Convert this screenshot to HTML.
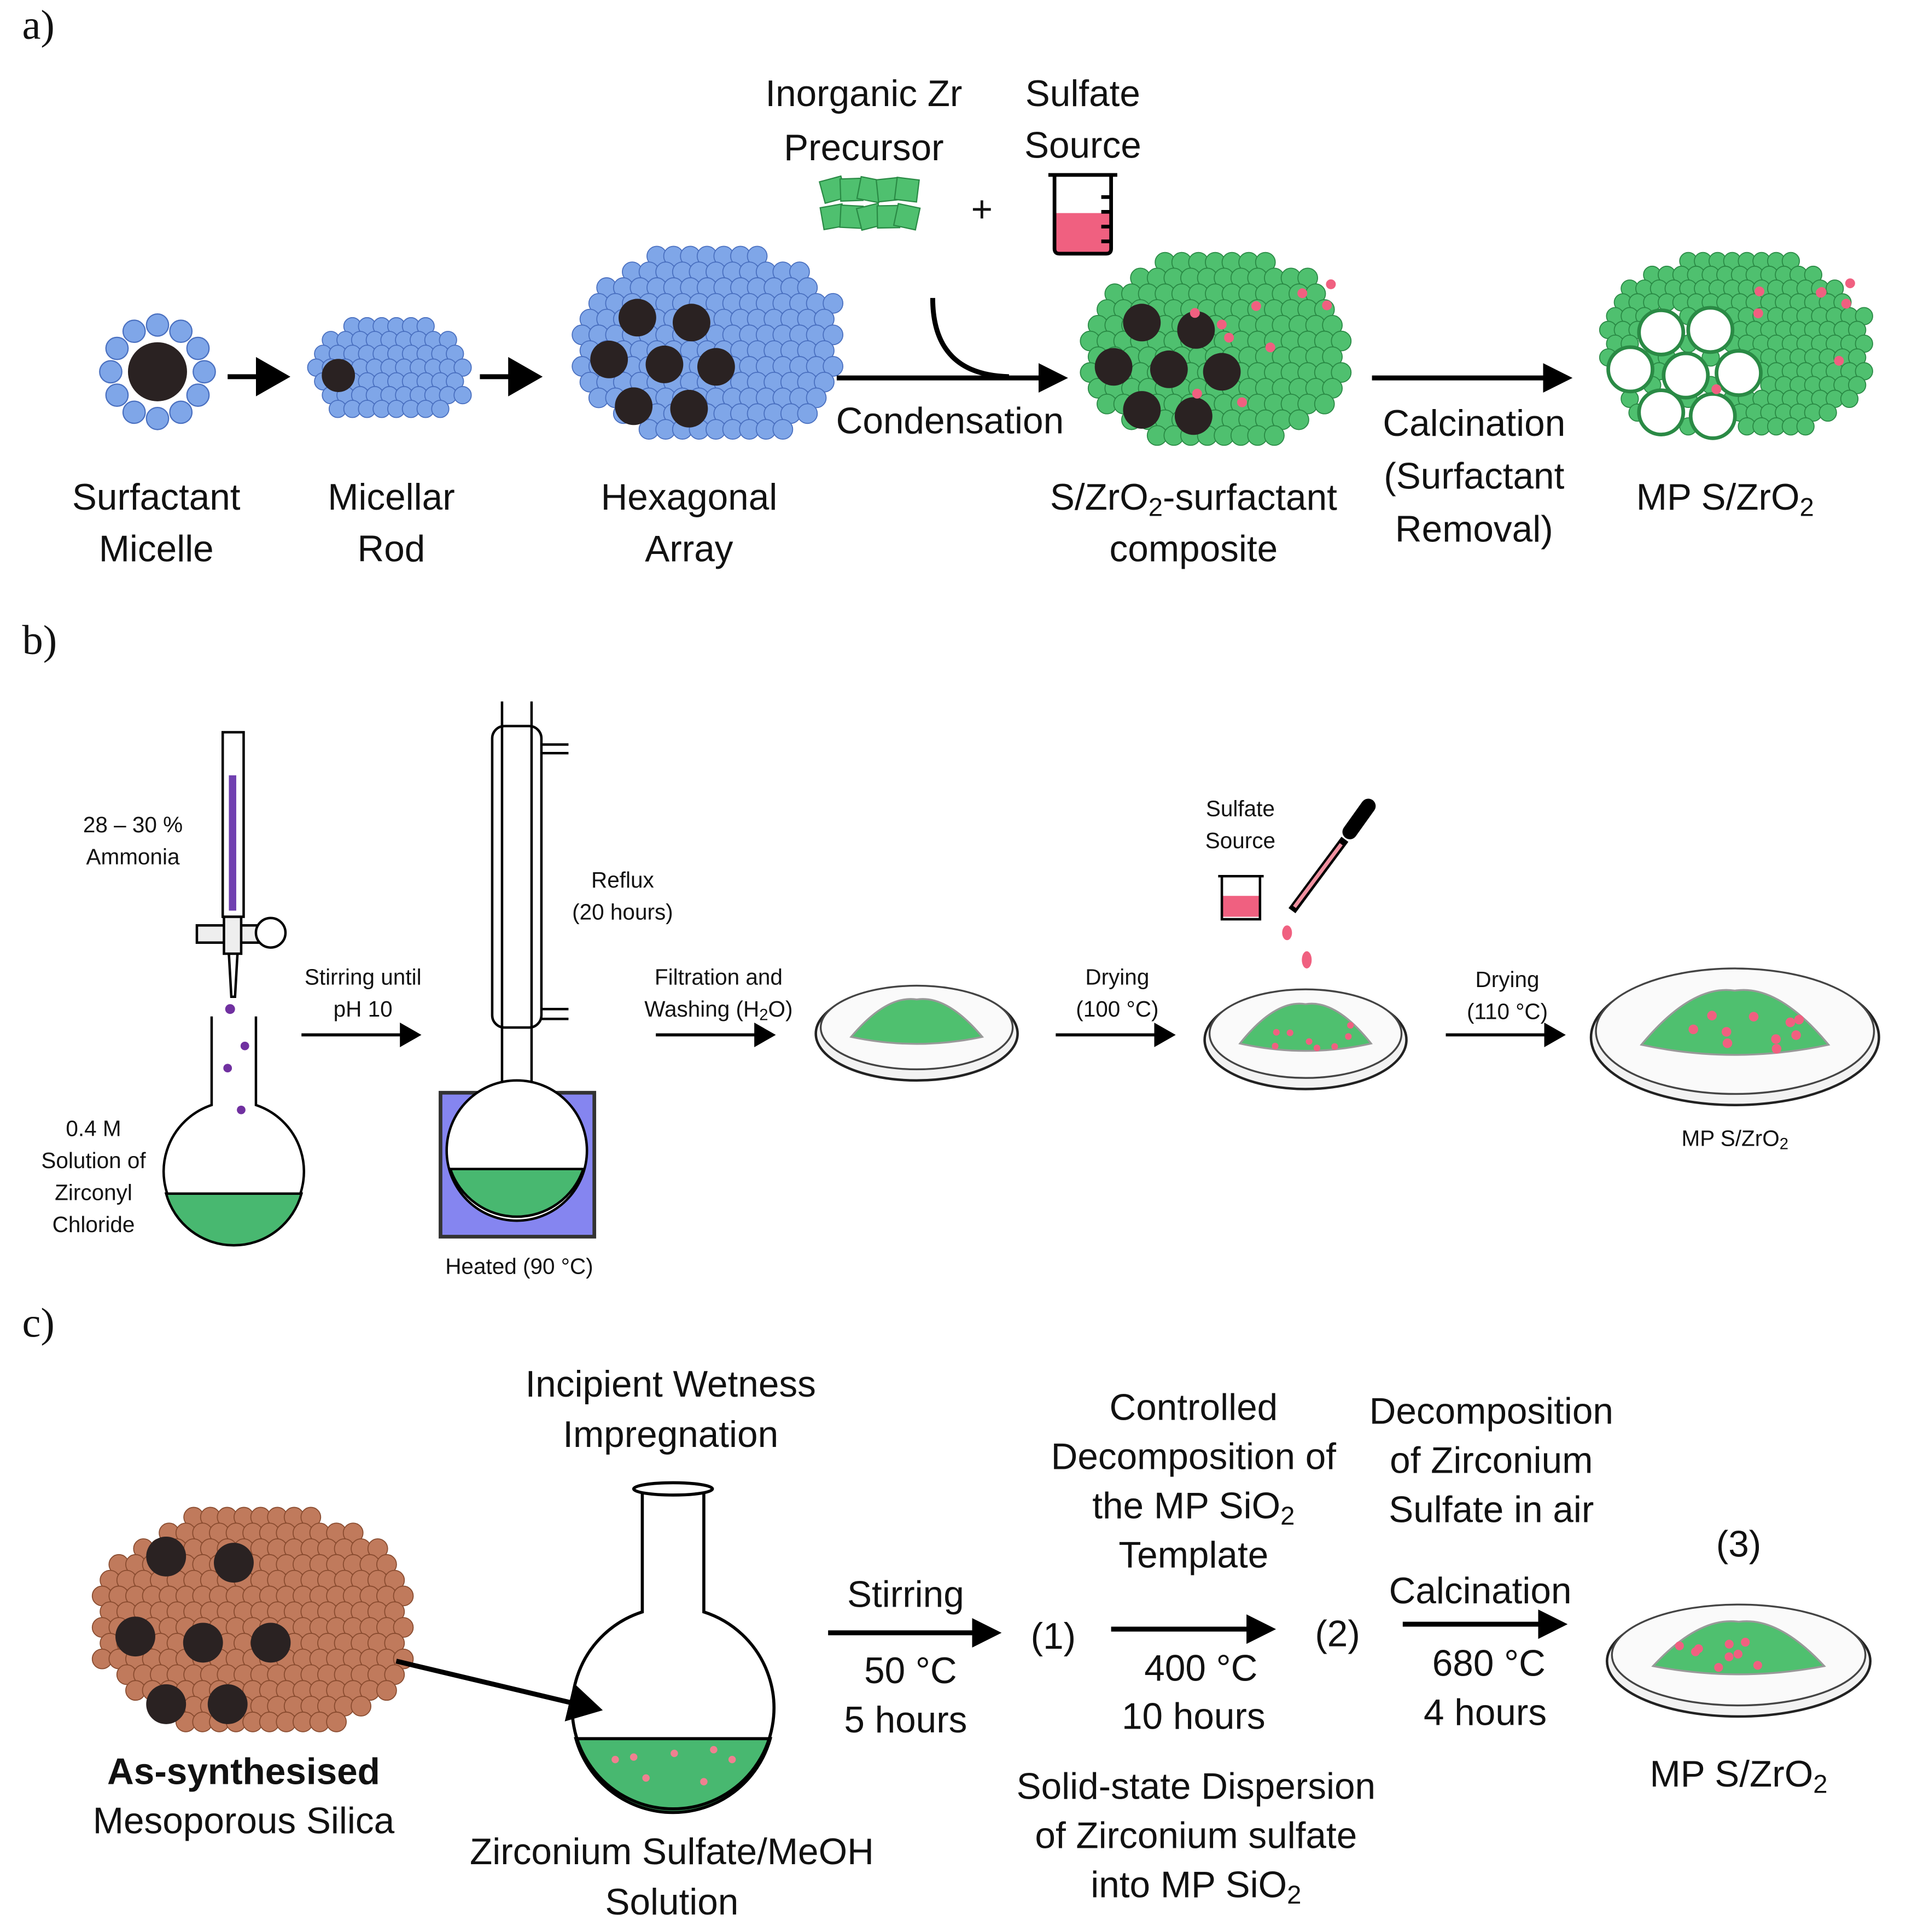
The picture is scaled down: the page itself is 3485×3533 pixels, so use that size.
<!DOCTYPE html>
<html><head><meta charset="utf-8">
<style>
html,body{margin:0;padding:0;background:#fff;}
svg{display:block;}
text{font-family:"Liberation Sans",sans-serif;fill:#111;dominant-baseline:central;text-anchor:middle;}
.l{font-size:30px;}
.s{font-size:18px;}
.p{font-size:34px;text-anchor:start;font-family:"Liberation Serif",serif;}
</style></head>
<body>
<svg id="sv" width="3485" height="3533" viewBox="0 0 1549 1570" xmlns="http://www.w3.org/2000/svg">
<defs>
<marker id="ah" markerWidth="8" markerHeight="8" refX="6" refY="4" orient="auto" markerUnits="strokeWidth"><path d="M0,0 L7,4 L0,8 z" fill="#000"/></marker>
<marker id="ah3" markerWidth="6" markerHeight="6" refX="5" refY="3" orient="auto" markerUnits="strokeWidth"><path d="M0,0 L6,3 L0,6 z" fill="#000"/></marker>
</defs>
<g id="dyn"></g>
<text class="p" x="18" y="20">a)</text>
<text class="p" x="18" y="520">b)</text>
<text class="p" x="18" y="1075">c)</text>

<g stroke="#000" stroke-width="4" fill="none">
<line x1="185" y1="306" x2="232" y2="306" marker-end="url(#ah)"/>
<line x1="390" y1="306" x2="437" y2="306" marker-end="url(#ah)"/>
<line x1="680" y1="307" x2="864" y2="307" marker-end="url(#ah3)"/>
<path d="M758,242 C758,285 780,305 820,306"/>
<line x1="1115" y1="307" x2="1274" y2="307" marker-end="url(#ah3)"/>
</g>
<text class="l" x="702" y="76">Inorganic Zr</text>
<text class="l" x="702" y="120">Precursor</text>
<text class="l" x="880" y="76">Sulfate</text>
<text class="l" x="880" y="118">Source</text>
<text class="l" x="798" y="170">+</text>
<path d="M857,173 L903,173 L903,202 Q903,206 899,206 L861,206 Q857,206 857,202 z" fill="#f06080"/>
<path d="M852,142 L908,142 M857,142 L857,202 Q857,206 861,206 L899,206 Q903,206 903,202 L903,142 M903,160 L895,160 M903,172 L895,172 M903,184 L895,184 M903,196 L895,196" stroke="#000" stroke-width="3" fill="none"/>
<text class="l" x="772" y="342">Condensation</text>
<text class="l" x="1198" y="344">Calcination</text>
<text class="l" x="1198" y="387">(Surfactant</text>
<text class="l" x="1198" y="430">Removal)</text>
<text class="l" x="127" y="404">Surfactant</text>
<text class="l" x="127" y="446">Micelle</text>
<text class="l" x="318" y="404">Micellar</text>
<text class="l" x="318" y="446">Rod</text>
<text class="l" x="560" y="404">Hexagonal</text>
<text class="l" x="560" y="446">Array</text>
<text class="l" x="970" y="404">S/ZrO<tspan font-size="21" dy="8">2</tspan><tspan dy="-8">-surfactant</tspan></text>
<text class="l" x="970" y="446">composite</text>
<text class="l" x="1402" y="404">MP S/ZrO<tspan font-size="21" dy="8">2</tspan></text>

<g stroke="#000" stroke-width="2" fill="none">
<rect x="181" y="595" width="17" height="150" fill="#fff"/>
<rect x="186" y="630" width="6" height="110" fill="#7040b0" stroke="none"/>
<rect x="160" y="752" width="60" height="14" fill="#eee"/>
<circle cx="220" cy="758" r="12" fill="#fff"/>
<rect x="182" y="745" width="14" height="30" fill="#eee"/>
<path d="M186,775 L188,810 L191,810 L193,775"/>
<path d="M172,826 L172,898 A57,57 0 1 0 208,898 L208,826"/>
<path d="M135,970 L245,970 A57,57 0 0 1 135,970 z" fill="#48b870"/>
</g>
<g fill="#7030a0"><circle cx="187" cy="820" r="4"/><circle cx="199" cy="850" r="3.5"/><circle cx="185" cy="868" r="3.5"/><circle cx="196" cy="902" r="3.5"/></g>
<text class="s" x="108" y="670">28 – 30 %</text>
<text class="s" x="108" y="696">Ammonia</text>
<text class="s" x="76" y="917">0.4 M</text>
<text class="s" x="76" y="943">Solution of</text>
<text class="s" x="76" y="969">Zirconyl</text>
<text class="s" x="76" y="995">Chloride</text>
<text class="s" x="295" y="794">Stirring until</text>
<text class="s" x="295" y="820">pH 10</text>
<g stroke="#000" stroke-width="2.5" fill="none">
<line x1="245" y1="841" x2="340" y2="841" marker-end="url(#ah)"/>
<line x1="533" y1="841" x2="628" y2="841" marker-end="url(#ah)"/>
<line x1="858" y1="841" x2="953" y2="841" marker-end="url(#ah)"/>
<line x1="1175" y1="841" x2="1270" y2="841" marker-end="url(#ah)"/>
</g>
<rect x="358" y="888" width="125" height="117" fill="#8585f0" stroke="#333" stroke-width="3"/>
<g stroke="#000" stroke-width="2" fill="none">
<rect x="400" y="590" width="40" height="245" rx="10" fill="#fff"/>
<path d="M440,605 L462,605 M440,612 L462,612 M440,820 L462,820 M440,828 L462,828"/>
<path d="M408,570 L408,890 M432,570 L432,890" />
<circle cx="420" cy="935" r="57" fill="#fff"/>
<path d="M366,950 L474,950 A57,57 0 0 1 366,950 z" fill="#48b870"/>
</g>
<text class="s" x="506" y="715">Reflux</text>
<text class="s" x="506" y="741">(20 hours)</text>
<text class="s" x="422" y="1029">Heated (90 °C)</text>
<text class="s" x="584" y="794">Filtration and</text>
<text class="s" x="584" y="820">Washing (H<tspan font-size="13" dy="5">2</tspan><tspan dy="-5">O)</tspan></text>
<text class="s" x="908" y="794">Drying</text>
<text class="s" x="908" y="820">(100 °C)</text>
<text class="s" x="1225" y="796">Drying</text>
<text class="s" x="1225" y="822">(110 °C)</text>
<text class="s" x="1008" y="657">Sulfate</text>
<text class="s" x="1008" y="683">Source</text>
<text class="s" x="1410" y="925">MP S/ZrO<tspan font-size="13" dy="5">2</tspan></text>
<path d="M993,728 L1024,728 L1024,745 L993,745 z" fill="#f06080"/>
<path d="M990,712 L1027,712 M993,712 L993,747 L1024,747 L1024,712" stroke="#000" stroke-width="2" fill="none"/>
<line x1="1112" y1="655" x2="1097" y2="676" stroke="#000" stroke-width="12" stroke-linecap="round"/>
<line x1="1093" y1="682" x2="1050" y2="740" stroke="#000" stroke-width="7"/>
<line x1="1090" y1="686" x2="1052" y2="737" stroke="#f090a0" stroke-width="3"/>
<ellipse cx="1046" cy="758" rx="4" ry="6" fill="#f06080"/>
<ellipse cx="1062" cy="780" rx="4" ry="7" fill="#f06080"/>

<g stroke="#000" stroke-width="4" fill="none">
<line x1="322" y1="1350" x2="486" y2="1389" marker-end="url(#ah)"/>
<line x1="673" y1="1327" x2="810" y2="1327" marker-end="url(#ah3)"/>
<line x1="903" y1="1324" x2="1033" y2="1324" marker-end="url(#ah3)"/>
<line x1="1140" y1="1320" x2="1270" y2="1320" marker-end="url(#ah3)"/>
</g>
<g stroke="#000" stroke-width="2.5" fill="none">
<path d="M468,1413 L626,1413 A82,82 0 0 1 468,1413 z" fill="#48b870"/>
<path d="M522,1212 L522,1310 A82,82 0 1 0 572,1310 L572,1212"/>
<ellipse cx="547" cy="1210" rx="32" ry="5" fill="#fff"/>
</g>
<g fill="#f08090"><circle cx="500" cy="1430" r="3"/><circle cx="525" cy="1445" r="3"/><circle cx="548" cy="1425" r="3"/><circle cx="572" cy="1448" r="3"/><circle cx="595" cy="1430" r="3"/><circle cx="515" cy="1428" r="3"/><circle cx="580" cy="1422" r="3"/></g>
<text class="l" x="545" y="1125">Incipient Wetness</text>
<text class="l" x="545" y="1166">Impregnation</text>
<text class="l" x="546" y="1505">Zirconium Sulfate/MeOH</text>
<text class="l" x="546" y="1546">Solution</text>
<text class="l" x="198" y="1440" font-weight="bold">As-synthesised</text>
<text class="l" x="198" y="1480">Mesoporous Silica</text>
<text class="l" x="736" y="1296">Stirring</text>
<text class="l" x="740" y="1358">50 °C</text>
<text class="l" x="736" y="1398">5 hours</text>
<text class="l" x="856" y="1330" font-size="36">(1)</text>
<text class="l" x="1087" y="1328" font-size="36">(2)</text>
<text class="l" x="1413" y="1255" font-size="36">(3)</text>
<text class="l" x="970" y="1144">Controlled</text>
<text class="l" x="970" y="1184">Decomposition of</text>
<text class="l" x="970" y="1224">the MP SiO<tspan font-size="21" dy="8">2</tspan></text>
<text class="l" x="970" y="1264">Template</text>
<text class="l" x="976" y="1356">400 °C</text>
<text class="l" x="970" y="1395">10 hours</text>
<text class="l" x="972" y="1452">Solid-state Dispersion</text>
<text class="l" x="972" y="1492">of Zirconium sulfate</text>
<text class="l" x="972" y="1532">into MP SiO<tspan font-size="21" dy="8">2</tspan></text>
<text class="l" x="1212" y="1147">Decomposition</text>
<text class="l" x="1212" y="1187">of Zirconium</text>
<text class="l" x="1212" y="1227">Sulfate in air</text>
<text class="l" x="1203" y="1293">Calcination</text>
<text class="l" x="1210" y="1352">680 °C</text>
<text class="l" x="1207" y="1392">4 hours</text>
<text class="l" x="1413" y="1442">MP S/ZrO<tspan font-size="21" dy="8">2</tspan></text>
</svg>
<script>
(function(){
var g=document.getElementById('dyn'),h='';
function R(s){var x=Math.sin(s*12.9898)*43758.5453;return x-Math.floor(x);}
function blob(x0,y0,x1,y1,col,stroke,r,holes,dark,pink,seed){
 var cx=(x0+x1)/2,cy=(y0+y1)/2,rx=(x1-x0)/2,ry=(y1-y0)/2,k=seed;
 for(var y=y0+r;y<=y1-r;y+=r*1.6){for(var x=x0+r+((Math.round((y-y0)/(r*1.6))%2)*r*0.8);x<=x1-r;x+=r*1.7){
  var dx=(x-cx)/rx,dy=(y-cy)/ry;if(dx*dx+dy*dy>1)continue;
  var skip=false;for(var i=0;i<holes.length;i++){var q=holes[i];if((x-q[0])*(x-q[0])+(y-q[1])*(y-q[1])<q[2]*q[2])skip=true;}
  if(skip&&!dark)continue;
  h+='<circle cx="'+x.toFixed(1)+'" cy="'+y.toFixed(1)+'" r="'+r+'" fill="'+col+'" stroke="'+stroke+'" stroke-width="0.8"/>';
 }}
 if(dark)holes.forEach(function(q){h+='<circle cx="'+q[0]+'" cy="'+q[1]+'" r="'+(q[2]*0.9)+'" fill="#2a2222"/>';});
 else holes.forEach(function(q){h+='<circle cx="'+q[0]+'" cy="'+q[1]+'" r="'+q[2]+'" fill="#fff" stroke="'+stroke+'" stroke-width="3"/>';});
 for(var i=0;i<pink;i++){k++;var px=cx+(R(k)-0.3)*rx*1.2,py=cy+(R(k+50)-0.5)*ry*1.4;h+='<circle cx="'+px.toFixed(1)+'" cy="'+py.toFixed(1)+'" r="4" fill="#f06080"/>';}
}
for(var a=0;a<12;a++){var t=a*Math.PI/6;h+='<circle cx="'+(128+38*Math.cos(t)).toFixed(1)+'" cy="'+(302+38*Math.sin(t)).toFixed(1)+'" r="9" fill="#7fa6e8" stroke="#4a70c0"/>';}
h+='<circle cx="128" cy="302" r="24" fill="#2a2222"/>';
blob(250,258,385,345,'#7fa6e8','#4a70c0',7,[[275,305,15]],true,0,1);
var hx=[[518,258],[562,262],[495,292],[540,296],[582,298],[515,330],[560,332]].map(function(p){return [p[0],p[1],17];});
blob(465,200,690,362,'#7fa6e8','#4a70c0',8,hx,true,0,1);
var cx2=[[928,262],[972,268],[905,298],[950,300],[993,302],[928,333],[970,338]].map(function(p){return [p[0],p[1],17];});
blob(878,205,1100,365,'#4fc06f','#2a8a45',8,cx2,true,10,3);
var mh=[[1350,270],[1390,268],[1325,300],[1370,305],[1413,303],[1350,335],[1392,338]].map(function(p){return [p[0],p[1],18];});
blob(1300,205,1522,360,'#4fc06f','#2a8a45',7,mh,false,8,9);
for(var i=0;i<10;i++){var x=668+(i%5)*15,y=145+Math.floor(i/5)*22;h+='<rect x="'+x+'" y="'+y+'" width="18" height="18" fill="#4fc06f" stroke="#2a8a45" transform="rotate('+(i*13%30-15)+' '+(x+9)+' '+(y+9)+')"/>';}
var sh=[[135,1265],[190,1270],[110,1330],[165,1335],[220,1335],[135,1385],[185,1385]].map(function(p){return [p[0],p[1],18];});
blob(75,1225,340,1412,'#c07a5c','#8a4c30',8,sh,true,0,1);
function dish(cx,cy,rx,ry,pk,seed){
 h+='<ellipse cx="'+cx+'" cy="'+(cy+5)+'" rx="'+rx+'" ry="'+ry+'" fill="#f2f2f2" stroke="#222" stroke-width="2"/>';
 h+='<ellipse cx="'+cx+'" cy="'+cy+'" rx="'+(rx-4)+'" ry="'+(ry-4)+'" fill="#fafafa" stroke="#444" stroke-width="1.5"/>';
 h+='<path d="M'+(cx-rx*0.65)+','+(cy+ry*0.2)+' Q'+(cx-rx*0.3)+','+(cy-ry*0.7)+' '+cx+','+(cy-ry*0.6)+' Q'+(cx+rx*0.3)+','+(cy-ry*0.7)+' '+(cx+rx*0.65)+','+(cy+ry*0.2)+' Q'+cx+','+(cy+ry*0.5)+' '+(cx-rx*0.65)+','+(cy+ry*0.2)+'z" fill="#4fc06f" stroke="#999" stroke-width="1.5"/>';
 var k=seed;for(var i=0;i<pk;i++){k++;h+='<circle cx="'+(cx+(R(k)-0.5)*rx*0.9).toFixed(1)+'" cy="'+(cy+(R(k+30)-0.5)*ry*0.6).toFixed(1)+'" r="'+(rx/30).toFixed(1)+'" fill="#f06080"/>';}
}
dish(745,835,82,38,0,1);dish(1061,840,82,40,8,5);dish(1410,838,117,55,10,9);dish(1413,1345,107,45,9,20);
g.innerHTML=h;
})();
</script>
</body></html>
